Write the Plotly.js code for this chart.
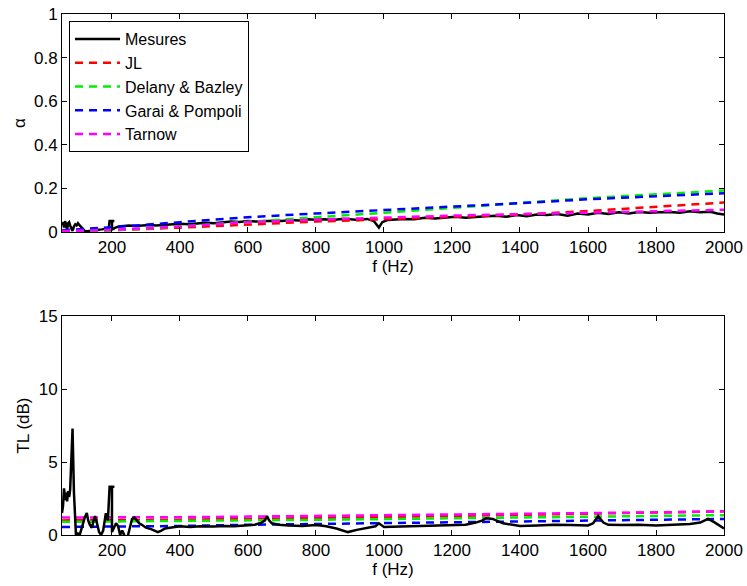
<!DOCTYPE html>
<html><head><meta charset="utf-8">
<script src="https://cdn.plot.ly/plotly-3.0.1.min.js"></script>
<style>html,body{margin:0;padding:0;background:#fff}#c{width:747px;height:586px}</style>
</head><body><div id="c"></div>
<script>
// ---- Data ----
const seriesNames = ["Mesures", "JL", "Delany & Bazley", "Garai & Pompoli", "Tarnow"];
const seriesColors = ["#000000", "#ff0000", "#00ee00", "#0000ff", "#ff00ff"];

// Model curves: frequency grid
const fModel = [53, 200, 400, 600, 800, 1000, 1200, 1400, 1600, 1800, 2000];
// Absorption coefficient alpha
const alphaJL      = [0.003, 0.008, 0.020, 0.035, 0.048, 0.058, 0.068, 0.080, 0.096, 0.114, 0.135];
const alphaDelany  = [0.002, 0.008, 0.025, 0.048, 0.068, 0.088, 0.110, 0.133, 0.155, 0.173, 0.190];
const alphaGarai   = [0.008, 0.022, 0.045, 0.068, 0.085, 0.100, 0.117, 0.132, 0.150, 0.165, 0.178];
const alphaTarnow  = [0.004, 0.010, 0.025, 0.045, 0.057, 0.067, 0.075, 0.082, 0.088, 0.095, 0.102];
// Transmission loss TL (dB)
const tlJL     = [1.00, 1.00, 1.05, 1.10, 1.15, 1.22, 1.30, 1.38, 1.46, 1.54, 1.62];
const tlDelany = [0.90, 0.92, 0.95, 1.00, 1.04, 1.09, 1.14, 1.19, 1.25, 1.30, 1.36];
const tlGarai  = [0.55, 0.57, 0.62, 0.70, 0.76, 0.80, 0.85, 0.92, 1.00, 1.05, 1.10];
const tlTarnow = [1.20, 1.20, 1.22, 1.26, 1.30, 1.35, 1.40, 1.45, 1.50, 1.55, 1.62];

// Measurements (alpha)
const fMesA = [53,56,59,62,65,68,71,74,77,80,84,88,92,96,100,105,110,115,120,125,130,140,150,160,170,180,190,193,207,200,200,210,220,235,250,270,290,310,330,350,375,400,425,450,475,500,525,550,575,600,625,650,675,700,725,750,775,800,825,850,875,900,925,950,970,985,995,1010,1030,1060,1090,1120,1150,1180,1210,1240,1270,1300,1330,1360,1390,1420,1450,1480,1510,1540,1570,1600,1630,1660,1690,1720,1750,1780,1810,1840,1870,1900,1930,1960,1980,2000];
const alphaMes = [0.030,0.045,0.020,0.050,0.035,0.010,0.040,0.045,0.030,0.015,0.005,0.025,0.035,0.030,0.040,0.030,0.020,0.010,0.005,0.003,0.004,0.006,0.004,0.010,0.012,0.015,0.012,0.050,0.050,0.050,0.010,0.020,0.025,0.028,0.030,0.028,0.030,0.032,0.030,0.033,0.035,0.038,0.036,0.040,0.042,0.040,0.045,0.048,0.046,0.050,0.048,0.050,0.052,0.050,0.055,0.053,0.058,0.056,0.058,0.055,0.060,0.058,0.055,0.060,0.050,0.020,0.045,0.055,0.058,0.060,0.058,0.065,0.062,0.067,0.070,0.065,0.070,0.072,0.075,0.070,0.078,0.072,0.080,0.078,0.082,0.075,0.085,0.080,0.088,0.083,0.090,0.085,0.092,0.088,0.090,0.092,0.088,0.095,0.090,0.093,0.085,0.080];

// Measurements (TL)
const fMesT = [53,56,59,62,65,68,71,74,77,80,84,88,91,94,97,100,105,112,120,126,130,135,141,146,150,156,162,168,174,182,188,193,207,200,200,212,218,224,230,236,242,247,253,259,266,273,280,288,300,315,335,345,356,370,385,400,430,460,500,530,560,600,620,640,650,656,662,670,690,720,760,800,830,860,894,920,950,975,985,1000,1050,1100,1150,1200,1240,1270,1290,1300,1320,1350,1400,1450,1500,1550,1600,1615,1630,1645,1660,1700,1750,1800,1850,1900,1930,1953,1970,1985,2000];
const tlMes = [1.5,2.0,3.2,2.4,2.9,2.3,3.0,2.6,3.1,4.5,7.3,3.0,0.8,0.0,0.0,0.1,0.0,0.6,1.2,1.5,1.0,0.7,0.5,1.0,1.3,0.8,0.2,0.0,0.3,1.5,1.0,3.3,3.3,3.3,0.2,0.8,0.6,0.0,0.3,0.0,-0.5,0.0,0.6,1.1,1.2,1.0,0.8,0.7,0.5,0.4,0.2,0.3,0.45,0.5,0.55,0.6,0.55,0.6,0.58,0.62,0.6,0.65,0.7,0.85,1.0,1.3,1.0,0.8,0.7,0.65,0.62,0.68,0.6,0.45,0.2,0.35,0.5,0.6,0.8,0.55,0.58,0.6,0.62,0.65,0.7,0.85,1.0,1.15,1.1,0.8,0.62,0.65,0.7,0.68,0.65,0.8,1.3,0.85,0.7,0.68,0.7,0.65,0.72,0.75,0.85,1.1,0.9,0.7,0.45];

// ---- Figure ----
const dash = "8px,6px";
const lw = 2.5;
const traces = [
  {x: fMesA, y: alphaMes, name: seriesNames[0], line: {color: seriesColors[0], width: lw}, xaxis: "x", yaxis: "y"},
  {x: fModel, y: alphaJL, name: seriesNames[1], line: {color: seriesColors[1], width: lw, dash: dash}, xaxis: "x", yaxis: "y"},
  {x: fModel, y: alphaDelany, name: seriesNames[2], line: {color: seriesColors[2], width: lw, dash: dash}, xaxis: "x", yaxis: "y"},
  {x: fModel, y: alphaGarai, name: seriesNames[3], line: {color: seriesColors[3], width: lw, dash: dash}, xaxis: "x", yaxis: "y"},
  {x: fModel, y: alphaTarnow, name: seriesNames[4], line: {color: seriesColors[4], width: lw, dash: dash}, xaxis: "x", yaxis: "y"},
  {x: fModel, y: tlJL, showlegend: false, line: {color: seriesColors[1], width: lw, dash: dash}, xaxis: "x2", yaxis: "y2"},
  {x: fModel, y: tlDelany, showlegend: false, line: {color: seriesColors[2], width: lw, dash: dash}, xaxis: "x2", yaxis: "y2"},
  {x: fModel, y: tlGarai, showlegend: false, line: {color: seriesColors[3], width: lw, dash: dash}, xaxis: "x2", yaxis: "y2"},
  {x: fModel, y: tlTarnow, showlegend: false, line: {color: seriesColors[4], width: lw, dash: dash}, xaxis: "x2", yaxis: "y2"},
  {x: fMesT, y: tlMes, showlegend: false, line: {color: seriesColors[0], width: lw}, xaxis: "x2", yaxis: "y2"}
].map(t => Object.assign({type: "scatter", mode: "lines", hoverinfo: "skip"}, t));

const font = {family: "Liberation Sans, Arial, sans-serif", size: 17, color: "#000"};
const axBase = {
  showline: true, linecolor: "#000", linewidth: 1, mirror: "ticks",
  ticks: "inside", ticklen: 5, tickwidth: 1, tickcolor: "#000",
  showgrid: false, zeroline: false, tickfont: font, fixedrange: true
};
const xTicks = [200, 400, 600, 800, 1000, 1200, 1400, 1600, 1800, 2000];

const layout = {
  width: 747, height: 586,
  margin: {l: 62, r: 23, t: 14, b: 51},
  paper_bgcolor: "#fff", plot_bgcolor: "#fff",
  font: font,
  showlegend: true,
  legend: {
    x: 0.0106, y: 0.9866, xanchor: "left", yanchor: "top",
    bgcolor: "#fff", bordercolor: "#000", borderwidth: 1,
    font: {family: font.family, size: 16, color: "#000"},
    tracegroupgap: 0, itemwidth: 45
  },
  xaxis: Object.assign({}, axBase, {domain: [0, 1], anchor: "y", range: [53, 2000], tickvals: xTicks,
    title: {text: "f (Hz)", font: font, standoff: 0}}),
  yaxis: Object.assign({}, axBase, {domain: [0.5816, 1], anchor: "x", range: [0, 1], tickvals: [0, 0.2, 0.4, 0.6, 0.8, 1],
    ticktext: ["0", "0.2", "0.4", "0.6", "0.8", "1"], title: {text: "α", font: font, standoff: 4}}),
  xaxis2: Object.assign({}, axBase, {domain: [0, 1], anchor: "y2", range: [53, 2000], tickvals: xTicks,
    title: {text: "f (Hz)", font: font, standoff: 2}}),
  yaxis2: Object.assign({}, axBase, {domain: [0, 0.4203], anchor: "x2", range: [0, 15], tickvals: [0, 5, 10, 15],
    title: {text: "TL (dB)", font: font, standoff: 4}})
};

Plotly.newPlot("c", traces, layout, {staticPlot: true, displayModeBar: false});
</script></body></html>
